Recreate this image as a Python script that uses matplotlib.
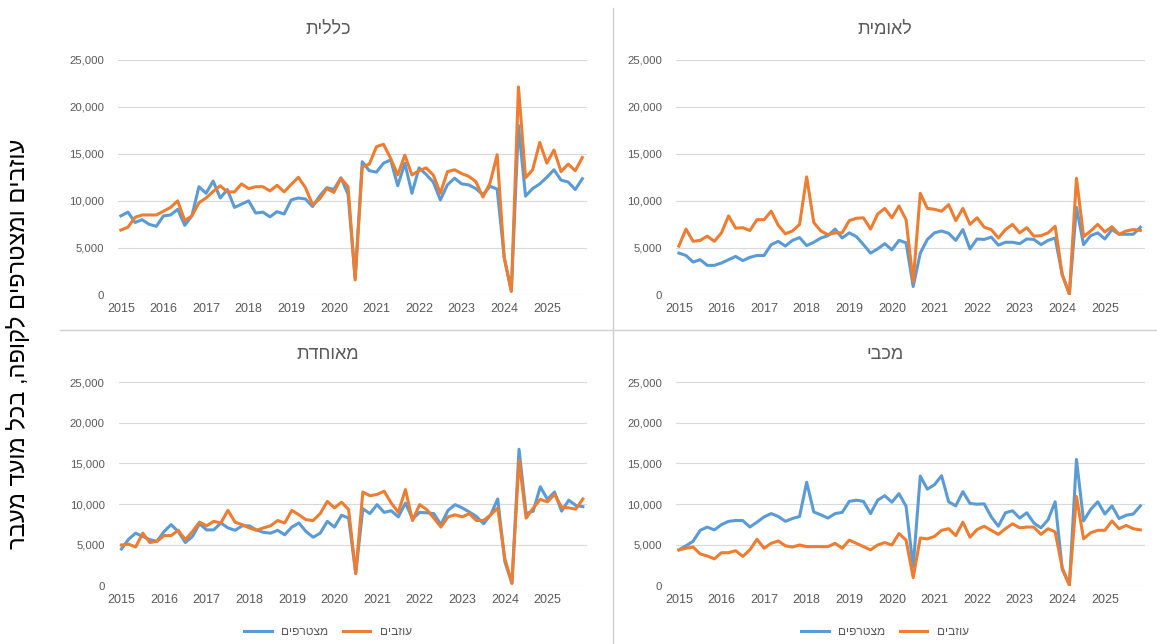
import numpy as np
import matplotlib
matplotlib.use('Agg')
import matplotlib.pyplot as plt
from matplotlib.lines import Line2D
from matplotlib.ticker import FuncFormatter

plt.rcParams['font.family'] = ['Liberation Sans', 'DejaVu Sans']

# bi-monthly transfer dates, Jan 2015 .. Nov 2025
years = list(range(2015, 2026))

# כללית
klalit_join = [8400, 8800, 7700, 8000, 7500, 7300, 8400, 8500, 9100, 7400, 8400,
               11500, 10800, 12100, 10300, 11200, 9300, 9650, 10000, 8700, 8800, 8300,
               8850, 8600, 10100, 10300, 10200, 9400, 10500, 11400, 11200, 12450, 10700,
               1800,
               14150, 13200, 13050, 14000, 14350, 11600, 14000, 10800, 13500, 12800, 12000,
               10100, 11700, 12400, 11800, 11700, 11300, 10650, 11550, 11250, 4000, 400,
               18000, 10500, 11300, 11800, 12500, 13300, 12200, 12000, 11200, 12350]
klalit_leave = [6900, 7200, 8250, 8500, 8500, 8500, 8900, 9300, 10000, 7900, 8400,
                9800, 10300, 11000, 11600, 10950, 10950, 11800, 11300, 11500, 11500, 11050,
                11650, 10950, 11750, 12500, 11400, 9600, 10200, 11300, 10900, 12400, 11500,
                1600,
                13600, 13900, 15750, 16000, 14500, 12750, 14850, 12750, 13200, 13500, 12750,
                10800, 13100, 13300, 12900, 12600, 12050, 10400, 11900, 14900, 3900, 400,
                22100, 12450, 13300, 16200, 14000, 15400, 13100, 13900, 13200, 14600]

# לאומית
leumit_join = [4450, 4200, 3500, 3750, 3150, 3150, 3400, 3750, 4100, 3650, 4000,
               4200, 4200, 5350, 5700, 5200, 5800, 6100, 5250, 5600, 6050, 6300,
               7000, 6050, 6600, 6200, 5350, 4450, 4900, 5450, 4800, 5800, 5550,
               900,
               4450, 5900, 6600, 6800, 6550, 5800, 6950, 4900, 5950, 5900, 6150,
               5300, 5600, 5600, 5450, 5950, 5900, 5350, 5800, 6050, 2150, 100,
               9300, 5350, 6300, 6600, 5950, 6950, 6450, 6450, 6450, 7200]
leumit_leave = [5200, 7000, 5700, 5800, 6250, 5700, 6600, 8400, 7100, 7150, 6850,
                8000, 8000, 8900, 7400, 6500, 6800, 7500, 12550, 7700, 6800, 6400,
                6600, 6600, 7900, 8150, 8200, 7000, 8600, 9200, 8200, 9450, 8000,
                1400,
                10800, 9200, 9100, 8900, 9600, 7900, 9200, 7500, 8200, 7200, 6950,
                6050, 6950, 7500, 6600, 7150, 6250, 6300, 6600, 7300, 2150, 100,
                12400, 6200, 6800, 7500, 6700, 7250, 6450, 6800, 6950, 6850]

# מאוחדת
meuhedet_join = [4500, 5700, 6450, 6050, 5650, 5450, 6650, 7500, 6650, 5300, 6050,
                 7600, 6850, 6850, 7700, 7100, 6800, 7350, 7350, 6850, 6550, 6450,
                 6800, 6250, 7200, 7700, 6650, 5950, 6450, 7900, 7200, 8650, 8300,
                 1500,
                 9450, 8850, 9950, 9000, 9200, 8450, 10150, 8200, 9000, 8950, 8850,
                 7500, 9250, 9950, 9550, 9050, 8500, 7600, 8700, 10650, 2950, 300,
                 16750, 8850, 9150, 12150, 10600, 11500, 9150, 10500, 9850, 9700]
meuhedet_leave = [5000, 5100, 4750, 6450, 5300, 5450, 6150, 6150, 6800, 5650, 6650,
                  7800, 7350, 7900, 7700, 9250, 7800, 7500, 7100, 6800, 7100, 7350,
                  8000, 7700, 9250, 8700, 8100, 8000, 8850, 10350, 9550, 10250, 9350,
                  1500,
                  11500, 11050, 11200, 11600, 10150, 9000, 11800, 8000, 9950, 9350, 8300,
                  7200, 8450, 8700, 8450, 8850, 8000, 8000, 8700, 9550, 3350, 300,
                  15400, 8300, 9550, 10600, 10300, 11200, 9650, 9550, 9400, 10650]

# מכבי
maccabi_join = [4400, 4900, 5450, 6800, 7200, 6850, 7500, 7900, 8000, 8000, 7200,
                7800, 8450, 8850, 8500, 7900, 8250, 8500, 12700, 9050, 8700, 8300,
                8850, 9000, 10350, 10500, 10350, 8850, 10500, 11050, 10250, 11300, 9750,
                2300,
                13450, 11850, 12400, 13500, 10300, 9800, 11550, 10100, 10000, 10050, 8450,
                7300, 8950, 9200, 8300, 8950, 7700, 7100, 8100, 10300, 2000, 100,
                15500, 7950, 9350, 10300, 8800, 9800, 8250, 8650, 8800, 9800]
maccabi_leave = [4400, 4600, 4750, 3900, 3650, 3300, 4050, 4050, 4300, 3600, 4400,
                 5700, 4600, 5200, 5500, 4900, 4750, 5000, 4800, 4800, 4800, 4800,
                 5200, 4600, 5600, 5200, 4800, 4400, 5000, 5300, 5000, 6400, 5600,
                 1000,
                 5850, 5750, 6050, 6800, 7000, 6150, 7800, 5950, 6900, 7300, 6800,
                 6300, 7000, 7600, 7100, 7200, 7200, 6300, 7000, 6600, 2200, 100,
                 10950, 5750, 6500, 6800, 6800, 7950, 7000, 7400, 7000, 6850]

BLUE = '#5B9BD5'
ORANGE = '#ED7D31'
GREY = '#595959'


# matplotlib has no bidi, so Hebrew is drawn reversed
def rtl(s):
    return s[::-1]


fig = plt.figure(figsize=(11.57, 6.44), dpi=100)

W = 0.4050
panels = [
    # left, bottom, height, title, join, leave, title x, title y, legend
    (0.1020, 0.5419, 0.3656, 'כללית', klalit_join, klalit_leave, 0.2835, 0.955, False),
    (0.5843, 0.5419, 0.3656, 'לאומית', leumit_join, leumit_leave, 0.765, 0.955, False),
    (0.1025, 0.0905, 0.3163, 'מאוחדת', meuhedet_join, meuhedet_leave, 0.2835, 0.449, True),
    (0.5843, 0.0905, 0.3163, 'מכבי', maccabi_join, maccabi_leave, 0.765, 0.449, True),
]

for left, bottom, height, title, join, leave, tx, ty, with_legend in panels:
    ax = fig.add_axes([left, bottom, W, height])
    x = np.arange(len(join))
    ax.plot(x, join, color=BLUE, lw=2.2, label=rtl('מצטרפים'))
    ax.plot(x, leave, color=ORANGE, lw=2.2, label=rtl('עוזבים'))

    ax.set_xlim(-0.4, 65.6)
    ax.set_ylim(0, 25000)
    ax.set_yticks(range(0, 25001, 5000))
    ax.yaxis.set_major_formatter(FuncFormatter(lambda v, p: f'{v:,.0f}'))
    ax.set_xticks(np.arange(0, len(join), 6))
    ax.set_xticklabels([str(y) for y in years])

    ax.grid(axis='y', color='#d9d9d9', lw=0.8)
    ax.set_axisbelow(True)
    for s in ax.spines.values():
        s.set_visible(False)
    ax.tick_params(axis='y', length=0, pad=10, labelsize=8.2, labelcolor=GREY)
    ax.tick_params(axis='x', length=0, pad=6, labelsize=9, labelcolor=GREY)

    fig.text(tx, ty, rtl(title), ha='center', va='center', fontsize=13, color=GREY)

    if with_legend:
        ax.legend(loc='center', bbox_to_anchor=(tx, 0.019), bbox_transform=fig.transFigure,
                  ncol=2, frameon=False, fontsize=8.6, handlelength=2.3,
                  columnspacing=1.2, labelcolor=GREY)

fig.text(0.0156, 0.466, rtl('עוזבים ומצטרפים לקופה, בכל מועד מעבר'),
         rotation=90, ha='center', va='center', fontsize=17)

# separators between the four charts
fig.add_artist(Line2D([60 / 1157, 1], [1 - 330 / 644] * 2, transform=fig.transFigure,
                      color='#d0d0d0', lw=1))
fig.add_artist(Line2D([613 / 1157] * 2, [0, 1 - 8 / 644], transform=fig.transFigure,
                      color='#d0d0d0', lw=1))

fig.savefig('out.png', dpi=100)
